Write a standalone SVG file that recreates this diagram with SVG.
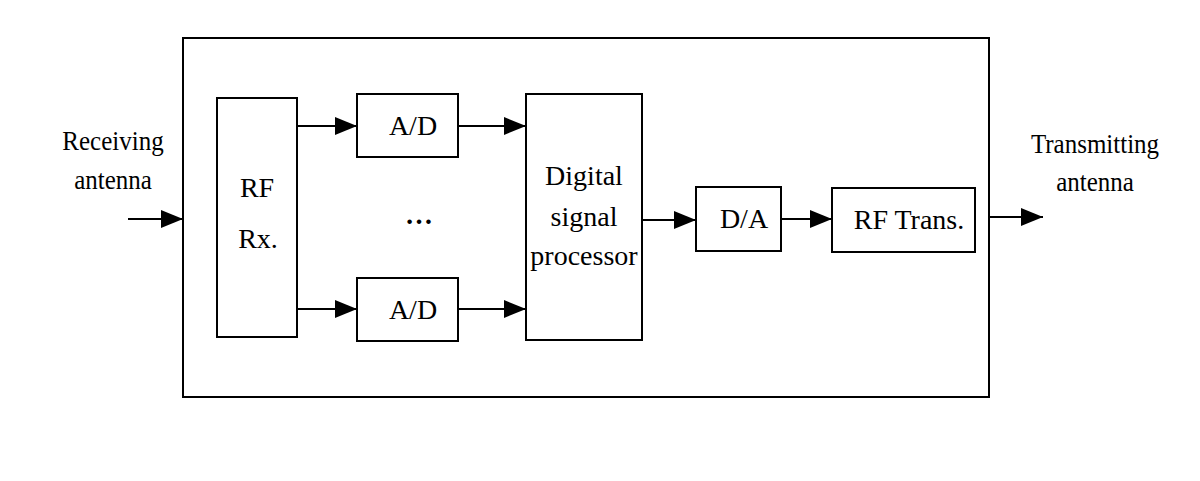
<svg xmlns="http://www.w3.org/2000/svg" width="1200" height="481" viewBox="0 0 1200 481">
<style>
.box{fill:#fff;stroke:#000;stroke-width:2}
.frame{fill:none;stroke:#000;stroke-width:2}
.t{font-family:"Liberation Serif","Times New Roman",serif;font-size:28px;fill:#000;text-anchor:middle}
.lbl{font-family:"Liberation Serif","Times New Roman",serif;font-size:25px;fill:#000;text-anchor:middle}
.c{stroke:#000;stroke-width:2;fill:none;marker-end:url(#ah)}
</style>
<defs>
<marker id="ah" markerUnits="userSpaceOnUse" markerWidth="22" markerHeight="18" refX="22" refY="9" orient="auto">
<path d="M0,0 L22,9 L0,18 Z" fill="#000"/>
</marker>
</defs>
<rect width="1200" height="481" fill="#fff"/>
<g id="frame"><rect class="frame" x="183" y="38" width="806" height="359"/></g>
<g id="rx-label">
<text class="lbl" transform="translate(113,150) scale(1,1.1)">Receiving</text>
<text class="lbl" transform="translate(113,189) scale(1,1.1)">antenna</text>
</g>
<g id="tx-label">
<text class="lbl" transform="translate(1095,153) scale(1,1.1)">Transmitting</text>
<text class="lbl" transform="translate(1095,191) scale(1,1.1)">antenna</text>
</g>
<g id="rf-rx">
<rect class="box" x="217" y="98" width="80" height="239"/>
<text class="t" x="257" y="197">RF</text>
<text class="t" x="258" y="248">Rx.</text>
</g>
<g id="ad-top">
<rect class="box" x="357" y="94" width="101" height="63"/>
<text class="t" x="413" y="135">A/D</text>
</g>
<g id="dots"><text class="t" x="419" y="224" font-weight="bold">…</text></g>
<g id="ad-bottom">
<rect class="box" x="357" y="278" width="101" height="63"/>
<text class="t" x="413" y="319">A/D</text>
</g>
<g id="dsp">
<rect class="box" x="526" y="94" width="116" height="246"/>
<text class="t" x="584" y="185">Digital</text>
<text class="t" x="584" y="226">signal</text>
<text class="t" x="584" y="265">processor</text>
</g>
<g id="da">
<rect class="box" x="696" y="187" width="85" height="64"/>
<text class="t" x="744" y="228">D/A</text>
</g>
<g id="rf-trans">
<rect class="box" x="832" y="188" width="143" height="64"/>
<text class="t" x="909" y="229">RF Trans.</text>
</g>
<g id="connectors">
<line class="c" x1="128" y1="219" x2="183" y2="219"/>
<line class="c" x1="297" y1="126" x2="357" y2="126"/>
<line class="c" x1="297" y1="309" x2="357" y2="309"/>
<line class="c" x1="458" y1="126" x2="526" y2="126"/>
<line class="c" x1="458" y1="309" x2="526" y2="309"/>
<line class="c" x1="642" y1="220" x2="696" y2="220"/>
<line class="c" x1="781" y1="219" x2="832" y2="219"/>
<line class="c" x1="989" y1="217" x2="1043" y2="217"/>
</g>
</svg>
